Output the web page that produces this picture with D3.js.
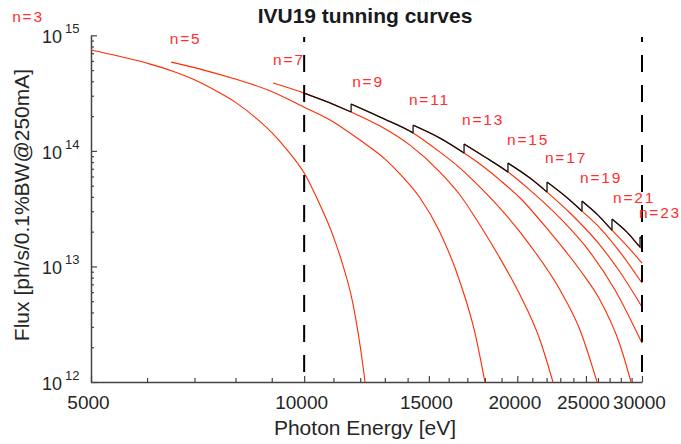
<!DOCTYPE html>
<html>
<head>
<meta charset="utf-8">
<script src="https://cdn.jsdelivr.net/npm/d3@7"></script>
<style>
body{margin:0;background:#fff;}
svg{display:block;font-family:Arial,"Liberation Sans",sans-serif;}
</style>
</head>
<body>
<svg id="chart" width="681" height="444"></svg>
<script>
// tuning curve of each odd harmonic: [photon energy (eV), flux (ph/s/0.1%BW@250mA)]
const h3=[[5000,7.45e14],[5460,6.61e14],[6060,5.63e14],[6510,4.90e14],[7010,4.10e14],[7560,3.23e14],[7990,2.64e14],[8520,1.96e14],[9010,1.43e14],[9490,9.96e13],[10000,6.43e13],[10530,3.40e13],[10990,1.83e13],[11350,1.01e13],[11690,5.12e12],[11920,2.65e12],[12110,1.37e12],[12190,1e12]];
const h5=[[6490,5.86e14],[7130,5.10e14],[7990,4.18e14],[8890,3.36e14],[10000,2.39e14],[10880,1.85e14],[11990,1.24e14],[13010,8.49e13],[13660,6.30e13],[14580,3.91e13],[15550,1.98e13],[16600,7.33e12],[17430,2.65e12],[18000,1e12]];
const h7=[[9040,3.86e14],[10000,3.16e14],[11650,2.17e14],[12800,1.64e14],[14110,1.12e14],[15550,6.56e13],[16600,4.15e13],[17710,2.28e13],[18900,1.18e13],[20180,5.66e12],[21530,2.31e12],[22460,1e12]];
const h9=[[11650,2.54e14],[12800,1.96e14],[14250,1.43e14],[15550,9.76e13],[16600,7.10e13],[17710,4.86e13],[18900,3.20e13],[20840,1.53e13],[22980,6.25e12],[24520,2.82e12],[25920,1e12]];
const h11=[[14250,1.67e14],[15550,1.29e14],[16820,9.57e13],[17710,7.69e13],[18900,5.59e13],[20180,3.91e13],[22240,1.98e13],[24520,9.31e12],[26170,5.12e12],[27930,2.09e12],[28950,1e12]];
const h13=[[16820,1.145e14],[18000,8.84e13],[19400,6.56e13],[20840,4.58e13],[22980,2.62e13],[25330,1.33e13],[27480,6.25e12],[30000,2.17e12]];
const h15=[[19400,7.84e13],[20840,5.82e13],[22030,4.40e13],[23740,2.90e13],[26170,1.53e13],[27930,8.94e12],[30000,4.46e12]];
const h17=[[22030,5.37e13],[23360,4.06e13],[24680,3.01e13],[26170,2.15e13],[27930,1.33e13],[30000,7.18e12]];
const h19=[[24680,3.68e13],[26000,2.78e13],[27210,2.06e13],[28670,1.47e13],[30000,1.07e13]];
const h21=[[27210,2.57e13],[28570,1.98e13],[29810,1.47e13],[30000,1.41e13]];
const h23=[[29810,1.80e13],[30000,1.73e13]];

const harmonics=[3,5,7,9,11,13,15,17,19,21,23];
const curves=[h3,h5,h7,h9,h11,h13,h15,h17,h19,h21,h23];

// where the "n=" labels sit, in data units
const labelE=[3870,6460,9040,11690,14060,16710,19340,21880,24520,27300,29700];
const labelF=[1.30e15,8.39e14,5.52e14,3.56e14,2.49e14,1.67e14,1.12e14,7.84e13,5.27e13,3.53e13,2.62e13];

const xMajor=[5000,10000,15000,20000,25000,30000];
const xMinor=d3.range(6000,30000,1000).filter(v=>!xMajor.includes(v));
const yMajor=[1e12,1e13,1e14,1e15];
const yExp=["12","13","14","15"];
const yMinor=[];
[1e12,1e13,1e14].forEach(d=>{for(let m=2;m<10;m++)yMinor.push(m*d);});
const cutE=[10000,30000];
const envFrom=10000;

const red="#ff2a00";
const ink="#262626";

const svg=d3.select("#chart");
const x=d3.scaleLog().domain([5000,30000]).range([91,642]);
const y=d3.scaleLog().domain([1e12,1e15]).range([382,35.3]);

const line=d3.line().x(d=>x(d[0])).y(d=>y(d[1])).curve(d3.curveMonotoneX);

// axes
const xAx=svg.append("g").attr("transform","translate(0,382)")
  .call(d3.axisBottom(x).tickValues(xMajor).tickSize(-6).tickSizeOuter(0).tickFormat(d3.format("d")));
const xAxMin=svg.append("g").attr("transform","translate(0,382)")
  .call(d3.axisBottom(x).tickValues(xMinor).tickSize(-4).tickSizeOuter(0).tickFormat(""));
xAxMin.select(".domain").remove();
xAx.selectAll("text").attr("y",14).attr("dx",-3).attr("font-size",19).attr("fill",ink).attr("font-family",null);

const yAx=svg.append("g").attr("transform","translate(91,0)")
  .call(d3.axisLeft(y).tickValues(yMajor).tickSize(-6).tickSizeOuter(0).tickFormat(""));
const yAxMin=svg.append("g").attr("transform","translate(91,0)")
  .call(d3.axisLeft(y).tickValues(yMinor).tickSize(-3).tickSizeOuter(0).tickFormat(""));
yAxMin.select(".domain").remove();

svg.selectAll(".domain").attr("stroke","#444").attr("stroke-width",1.5);
svg.selectAll(".tick line").attr("stroke","#444").attr("stroke-width",1.2);

const yl=svg.append("g").selectAll("g").data(yMajor).join("g");
yl.append("text").attr("x",62).attr("y",d=>y(d)+8).attr("text-anchor","end")
  .attr("font-size",18).attr("fill",ink).text("10");
yl.append("text").attr("x",65).attr("y",d=>y(d)-2)
  .attr("font-size",13).attr("fill",ink).text((d,i)=>yExp[i]);

// harmonic curves
svg.append("g").selectAll("path").data(curves).join("path")
  .attr("d",line).attr("fill","none").attr("stroke",red).attr("stroke-width",1.1);

// envelope: upper part of each curve up to where the next harmonic starts
const defs=svg.append("defs");
const env=svg.append("g");
curves.forEach((c,i)=>{
  if(harmonics[i]<7)return;
  const e0=Math.max(envFrom,c[0][0]);
  const next=curves[i+1];
  const e1=next?next[0][0]:30000;
  const id="clip"+harmonics[i];
  defs.append("clipPath").attr("id",id).append("rect")
    .attr("x",x(e0)).attr("y",0).attr("width",x(e1)-x(e0)).attr("height",444);
  env.append("path").attr("d",line(c)).attr("clip-path",`url(#${id})`)
    .attr("fill","none").attr("stroke","#111").attr("stroke-width",1.3);
  if(next){
    const low=c.find(p=>p[0]===e1);
    env.append("line").attr("x1",x(e1)).attr("x2",x(e1))
      .attr("y1",y(low[1])).attr("y2",y(next[0][1]))
      .attr("stroke","#111").attr("stroke-width",1.3);
  }
});

// dashed limits
svg.append("g").selectAll("line").data(cutE).join("line")
  .attr("x1",d=>x(d)).attr("x2",d=>x(d)).attr("y1",37).attr("y2",382)
  .attr("stroke","#000").attr("stroke-width",2)
  .attr("stroke-dasharray","17,13").attr("stroke-dashoffset",12);

// harmonic labels
svg.append("g").selectAll("text").data(harmonics).join("text")
  .attr("x",(d,i)=>x(labelE[i])).attr("y",(d,i)=>y(labelF[i]))
  .attr("font-size",15.5).attr("letter-spacing","1.8px").attr("fill","#ff2d2d")
  .text(d=>"n="+d);

// titles
svg.append("text").attr("x",365).attr("y",22.5).attr("text-anchor","middle")
  .attr("font-size",21).attr("font-weight","bold").attr("fill","#1a1a1a")
  .text("IVU19 tunning curves");
svg.append("text").attr("x",365).attr("y",435).attr("text-anchor","middle")
  .attr("font-size",21).attr("fill",ink).text("Photon Energy [eV]");
svg.append("text").attr("transform","translate(29,205) rotate(-90)").attr("text-anchor","middle")
  .attr("font-size",21).attr("fill",ink).text("Flux [ph/s/0.1%BW@250mA]");
</script>
</body>
</html>
